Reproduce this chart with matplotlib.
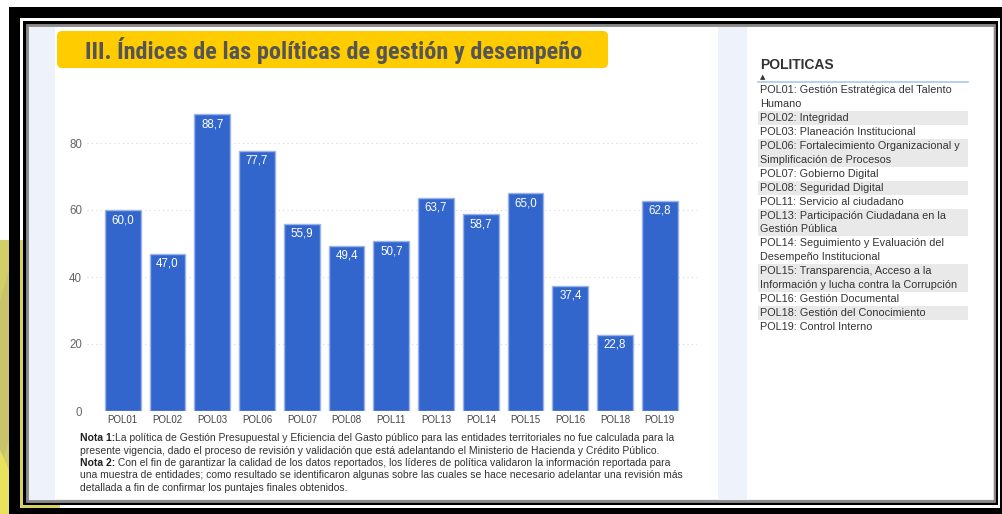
import matplotlib
matplotlib.use("Agg")
import matplotlib.pyplot as plt
from matplotlib.patches import Rectangle, FancyBboxPatch, Polygon
from matplotlib import font_manager as fm

# ---------------- data ----------------
categories = ["POL01", "POL02", "POL03", "POL06", "POL07", "POL08", "POL11",
              "POL13", "POL14", "POL15", "POL16", "POL18", "POL19"]
values = [60.0, 47.0, 88.7, 77.7, 55.9, 49.4, 50.7, 63.7, 58.7, 65.0, 37.4, 22.8, 62.8]
y_ticks = [0, 20, 40, 60, 80]

title = "III. Índices de las políticas de gestión y desempeño"
legend_title = "POLITICAS"
legend_items = [
    ["POL01: Gestión Estratégica del Talento", "Humano"],
    ["POL02: Integridad"],
    ["POL03: Planeación Institucional"],
    ["POL06: Fortalecimiento Organizacional y", "Simplificación de Procesos"],
    ["POL07: Gobierno Digital"],
    ["POL08: Seguridad Digital"],
    ["POL11: Servicio al ciudadano"],
    ["POL13: Participación Ciudadana en la", "Gestión Pública"],
    ["POL14: Seguimiento y Evaluación del", "Desempeño Institucional"],
    ["POL15: Transparencia, Acceso a la", "Información y lucha contra la Corrupción"],
    ["POL16: Gestión Documental"],
    ["POL18: Gestión del Conocimiento"],
    ["POL19: Control Interno"],
]
notes = [
    ("Nota 1:", "La política de Gestión Presupuestal y Eficiencia del Gasto público para las entidades territoriales no fue calculada para la"),
    ("", "presente vigencia, dado el proceso de revisión y validación que está adelantando el Ministerio de Hacienda y Crédito Público."),
    ("Nota 2:", " Con el fin de garantizar la calidad de los datos reportados, los líderes de política validaron la información reportada para"),
    ("", "una muestra de entidades; como resultado se identificaron algunas sobre las cuales se hace necesario adelantar una revisión más"),
    ("", "detallada a fin de confirmar los puntajes finales obtenidos."),
]

# ---------------- figure ----------------
W, H = 1002, 514
plt.rcParams['font.family'] = ['Liberation Sans', 'DejaVu Sans']
fig = plt.figure(figsize=(W / 100, H / 100), dpi=100)
fig.patch.set_facecolor("white")

bg = fig.add_axes([0, 0, 1, 1], zorder=0)
bg.set_xlim(0, W)
bg.set_ylim(H, 0)
bg.axis("off")

def rect(x0, y0, x1, y1, color, z=1, alpha=1.0):
    bg.add_patch(Rectangle((x0, y0), x1 - x0, y1 - y0, facecolor=color,
                           edgecolor="none", zorder=z, alpha=alpha))

# yellow decoration on the left
bg.add_patch(Polygon([(0, 240), (9, 240), (9, 514), (0, 514)], closed=True,
                     facecolor="#d3cf68", edgecolor="none", zorder=1))
bg.add_patch(Polygon([(0, 300), (9, 270), (9, 440), (0, 470)], closed=True,
                     facecolor="#c9c46c", edgecolor="none", zorder=1))
bg.add_patch(Polygon([(0, 450), (9, 470), (9, 514), (0, 514)], closed=True,
                     facecolor="#e8e25c", edgecolor="none", zorder=1))

# black frame
rect(9, 7, 1010, 520, "black", z=2)
rect(20, 18, 1000, 508, "white", z=3)
rect(20, 240, 23, 508, "#d8d262", z=3)
rect(20, 505, 60, 508, "#d8d262", z=3)
rect(23, 21, 998, 505, "black", z=4)
rect(26, 24, 996, 503, "#9a9a9a", z=5)
# content area
rect(29, 27, 994, 500, "#eef2fb", z=6)
# soft shadow
for i, a in enumerate([0.35, 0.22, 0.12]):
    rect(26 + i, 24, 27 + i, 503, "#555555", z=7, alpha=a)
    rect(26, 24 + i, 996, 25 + i, "#555555", z=7, alpha=a)
    rect(26, 502 - i, 996, 503 - i, "#555555", z=7, alpha=a)
    rect(995 - i, 24, 996 - i, 503, "#555555", z=7, alpha=a)

# white panels
rect(55, 27, 718, 499, "white", z=8)
rect(747, 27, 993, 499, "white", z=8)

# title box
bg.add_patch(FancyBboxPatch((57, 31), 551, 37,
                            boxstyle="round,pad=0,rounding_size=5",
                            facecolor="#ffcc00", edgecolor="none", zorder=9))

# choose a condensed bold face if one is installed
title_font = None
cands = []
for f in fm.fontManager.ttflist:
    nm = f.name.lower()
    st = str(f.stretch).lower()
    if ("narrow" in nm or "condensed" in nm or "condensed" in st) and f.weight in ("bold", 700, "demibold", 600):
        cands.append(f)
pref = ["liberation sans narrow", "roboto condensed", "open sans condensed",
        "dejavu sans", "noto sans"]
for p in pref:
    for f in cands:
        if f.name.lower().startswith(p):
            title_font = fm.FontProperties(fname=f.fname)
            break
    if title_font is not None:
        break
if title_font is None and cands:
    title_font = fm.FontProperties(fname=cands[0].fname)
if title_font is None:
    title_font = fm.FontProperties(family=["Roboto", "DejaVu Sans"], weight="bold")

fig.canvas.draw()
renderer = fig.canvas.get_renderer()
tsize = 16.0
tt = bg.text(85, 50, title, fontproperties=title_font, color="#555555",
             va="center", ha="left", zorder=10)
tt.set_fontsize(tsize)
wpx = tt.get_window_extent(renderer).width
tsize = min(18.5, tsize * 497.0 / wpx)
tt.set_fontsize(tsize)

# legend panel
bg.text(760, 65, legend_title, fontsize=10, fontweight="bold", color="#333333",
        va="center", ha="left", zorder=10)
bg.text(763, 77, "▲", fontsize=5, color="#333333", va="center", ha="center",
        family=["DejaVu Sans"], zorder=10)
bg.plot([758, 968], [82, 82], color="#a9c8f0", lw=1.2, zorder=10)
lh = 13.95
y = 83.0
for k, lines in enumerate(legend_items):
    h = lh * len(lines)
    if k % 2 == 1:
        rect(758, y, 968, y + h, "#e9e9e9", z=9)
    for j, line in enumerate(lines):
        bg.text(760, y + lh * (j + 0.5), line, fontsize=7.8, color="#333333",
                va="center", ha="left", zorder=10)
    y += h

# ---------------- chart ----------------
ax_l, ax_r = 87, 697
ax_b, ax_t = 411, 109.5
ax = fig.add_axes([ax_l / W, 1 - ax_b / H, (ax_r - ax_l) / W, (ax_b - ax_t) / H], zorder=20)
ax.patch.set_alpha(0)
x = list(range(len(categories)))
ax.bar(x, values, width=0.8, color="#3366cc", edgecolor="#9ab3ea", linewidth=1.0, zorder=3)
ax.set_xlim(-0.8, 12.83)
ax.set_ylim(0, 90)
ax.set_yticks(y_ticks)
ax.set_yticklabels([str(t) for t in y_ticks], fontsize=8.3, color="#666666")
ax.set_xticks(x)
ax.set_xticklabels(categories, fontsize=7, color="#444444")
ax.tick_params(axis="both", length=0)
ax.tick_params(axis="y", pad=3.5)
ax.tick_params(axis="x", pad=3)
for s in ax.spines.values():
    s.set_visible(False)
ax.yaxis.grid(True, color="#d9d9d9", linestyle=(0, (1, 3)), linewidth=0.8, zorder=0)
ax.set_axisbelow(True)
for xi, v in zip(x, values):
    ax.annotate(f"{v:.1f}".replace(".", ","), (xi, v), xytext=(0, -3),
                textcoords="offset points", ha="center", va="top",
                fontsize=8.3, color="white", zorder=4)

# ---------------- notes ----------------
fig.canvas.draw()
renderer = fig.canvas.get_renderer()
note_y = [438, 450.5, 463, 475.5, 488]
for (bold, rest), yy in zip(notes, note_y):
    xx = 80
    if bold:
        t = bg.text(xx, yy, bold, fontsize=7.5, fontweight="bold", color="#222222",
                    va="center", ha="left", zorder=10)
        bb = t.get_window_extent(renderer)
        xx = bb.x1  # pixel coordinate equals data coordinate here
    bg.text(xx, yy, rest, fontsize=7.5, color="#333333", va="center", ha="left", zorder=10)

fig.savefig("out.png", dpi=100)
